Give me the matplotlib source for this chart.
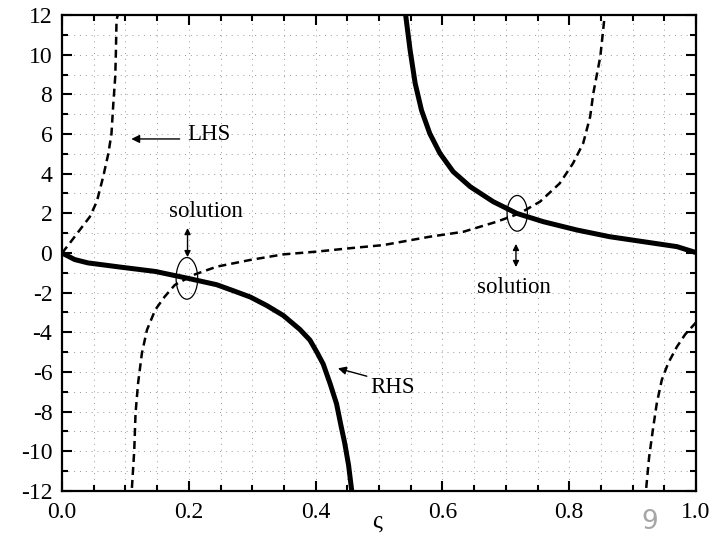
"""LHS / RHS graphical solution plot (dashed LHS, thick solid RHS)."""

import matplotlib
matplotlib.use("Agg")
import matplotlib.pyplot as plt
from matplotlib.patches import Ellipse
from matplotlib.ticker import MultipleLocator

# dashed LHS, three branches
LHS1_X = [0.0, 0.010, 0.028, 0.044, 0.055, 0.065, 0.073, 0.078, 0.081, 0.084, 0.085, 0.086, 0.088, 0.089]
LHS1_Y = [0.0, 0.40, 1.16, 1.83, 2.6, 3.85, 5.0, 6.0, 7.55, 8.9, 10.1, 11.75, 12.0, 12.5]

LHS2_X = [0.109, 0.110, 0.114, 0.116, 0.120, 0.126, 0.134, 0.147, 0.162, 0.178, 0.197, 0.207, 0.244,
          0.297, 0.349, 0.402, 0.454, 0.507, 0.580, 0.633, 0.686, 0.722, 0.754, 0.785, 0.806, 0.822,
          0.833, 0.838, 0.849, 0.853, 0.856, 0.857]
LHS2_Y = [-12.5, -12.0, -9.93, -8.08, -6.57, -5.06, -3.88, -2.87, -2.2, -1.61, -1.28, -1.11, -0.69,
          -0.35, -0.07, 0.07, 0.24, 0.40, 0.82, 1.07, 1.58, 2.0, 2.59, 3.51, 4.52, 5.53,
          6.87, 8.05, 9.9, 11.08, 12.0, 12.5]

LHS3_X = [0.920, 0.921, 0.926, 0.932, 0.938, 0.946, 0.956, 0.970, 0.983, 1.0]
LHS3_Y = [-12.5, -12.0, -10.3, -8.9, -7.6, -6.4, -5.56, -4.72, -4.1, -3.5]

# solid RHS, two branches
RHS1_X = [0.0, 0.020, 0.041, 0.094, 0.147, 0.199, 0.244, 0.270, 0.297, 0.323, 0.349, 0.375, 0.391,
          0.402, 0.412, 0.423, 0.433, 0.440, 0.446, 0.452, 0.457, 0.458]
RHS1_Y = [0.0, -0.33, -0.50, -0.72, -0.93, -1.28, -1.60, -1.90, -2.22, -2.65, -3.15, -3.85, -4.39,
          -5.0, -5.6, -6.6, -7.6, -8.7, -9.6, -10.7, -12.0, -12.5]

RHS2_X = [0.541, 0.542, 0.549, 0.557, 0.567, 0.580, 0.596, 0.617, 0.644, 0.680, 0.717, 0.759, 0.812,
          0.864, 0.917, 0.970, 1.0]
RHS2_Y = [12.5, 12.0, 10.24, 8.56, 7.2, 6.03, 5.03, 4.1, 3.34, 2.59, 2.0, 1.58, 1.16,
          0.82, 0.57, 0.32, 0.02]

# intersections (ellipse centres) and labels
SOLUTIONS = [(0.197, -1.28), (0.718, 2.0)]
X_TICKS = [0.0, 0.2, 0.4, 0.6, 0.8, 1.0]
Y_TICKS = [-12, -10, -8, -6, -4, -2, 0, 2, 4, 6, 8, 10, 12]

SERIF = "Liberation Serif"

fig = plt.figure(figsize=(7.2, 5.36), dpi=100)
ax = fig.add_axes([0.0861, 0.084, 0.8806, 0.888])

dash = (0, (3.2, 2))
for xs, ys in [(LHS1_X, LHS1_Y), (LHS2_X, LHS2_Y), (LHS3_X, LHS3_Y)]:
    ax.plot(xs, ys, color="black", lw=1.8, linestyle=dash, zorder=3)
for xs, ys in [(RHS1_X, RHS1_Y), (RHS2_X, RHS2_Y)]:
    ax.plot(xs, ys, color="black", lw=3.6, solid_capstyle="butt", solid_joinstyle="round", zorder=3)

ax.set_xlim(0, 1)
ax.set_ylim(-12, 12)
ax.set_xticks(X_TICKS)
ax.set_xticklabels([f"{v:.1f}" for v in X_TICKS])
ax.set_yticks(Y_TICKS)
ax.set_yticklabels([str(v) for v in Y_TICKS])
ax.xaxis.set_minor_locator(MultipleLocator(0.05))
ax.yaxis.set_minor_locator(MultipleLocator(1))
ax.tick_params(which="both", direction="in", top=True, right=True, width=1.5)
ax.tick_params(which="major", length=7)
ax.tick_params(which="minor", length=4)
ax.tick_params(axis="x", pad=8)
ax.tick_params(axis="y", pad=7)
for lab in ax.get_xticklabels() + ax.get_yticklabels():
    lab.set_fontfamily(SERIF)
    lab.set_fontsize(17)
for sp in ax.spines.values():
    sp.set_linewidth(1.6)

ax.grid(which="both", color="0.6", lw=0.7, linestyle=(0, (1, 5)), zorder=0)

# ellipses around intersections
ax.add_patch(Ellipse(SOLUTIONS[0], 0.034, 2.1, fill=False, lw=0.9, color="black", zorder=4))
ax.add_patch(Ellipse(SOLUTIONS[1], 0.032, 1.8, fill=False, lw=0.9, color="black", zorder=4))

# annotations
txt = dict(fontfamily=SERIF, fontsize=16.5, color="black")
ax.annotate("", xy=(0.105, 5.75), xytext=(0.19, 5.75),
            arrowprops=dict(arrowstyle="-|>", lw=1.0, color="black", mutation_scale=12))
ax.text(0.198, 5.95, "LHS", ha="left", va="center", **txt)

ax.text(0.227, 2.1, "solution", ha="center", va="center", **txt)
ax.annotate("", xy=(0.198, -0.35), xytext=(0.198, 1.4),
            arrowprops=dict(arrowstyle="<|-|>", lw=1.0, color="black", mutation_scale=9))

ax.text(0.713, -1.74, "solution", ha="center", va="center", **txt)
ax.annotate("", xy=(0.716, -0.85), xytext=(0.716, 0.6),
            arrowprops=dict(arrowstyle="<|-|>", lw=1.0, color="black", mutation_scale=9))

ax.annotate("", xy=(0.431, -5.78), xytext=(0.485, -6.25),
            arrowprops=dict(arrowstyle="-|>", lw=1.0, color="black", mutation_scale=12))
ax.text(0.486, -6.8, "RHS", ha="left", va="center", **txt)

ax.set_xlabel("ς", fontfamily=SERIF, fontsize=18, va="baseline")
ax.xaxis.set_label_coords(0.497, -0.077)

# slide page number
fig.text(0.903, 0.027, "9", ha="center", va="center", fontsize=19,
         color="#a6a6a6", fontfamily="DejaVu Sans")

fig.savefig("out.png", dpi=100)
